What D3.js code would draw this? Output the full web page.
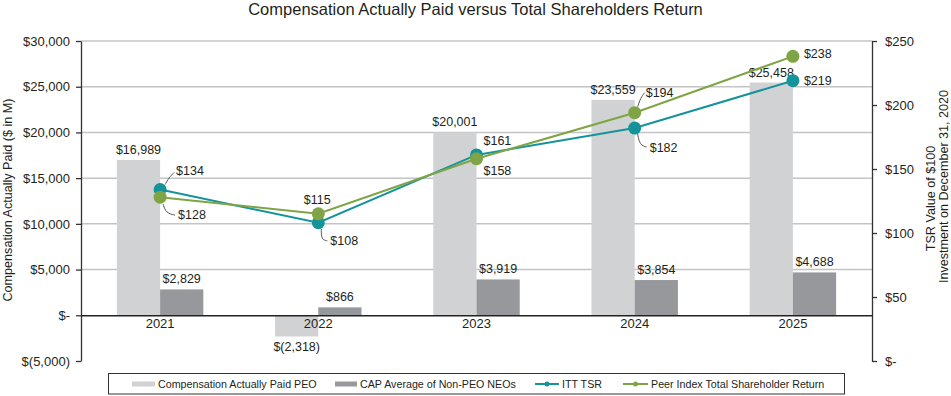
<!DOCTYPE html>
<html>
<head>
<meta charset="utf-8">
<script src="https://cdn.jsdelivr.net/npm/d3@7"></script>
<style>
  body { margin: 0; background: #fff; }
  svg { display: block; font-family: "Liberation Sans", Arial, sans-serif; }
</style>
</head>
<body>
<svg id="chart" width="951" height="396"></svg>
<script>
// data
const years = ["2021", "2022", "2023", "2024", "2025"];
const capPEO = [16989, -2318, 20001, 23559, 25458];
const capNEO = [2829, 866, 3919, 3854, 4688];
const ittTSR = [134, 108, 161, 182, 219];
const peerTSR = [128, 115, 158, 194, 238];
const leftTicks = [-5000, 0, 5000, 10000, 15000, 20000, 25000, 30000];
const rightTicks = [0, 50, 100, 150, 200, 250];

const colors = { peo: "#d1d2d4", neo: "#97989b", itt: "#14939a", peer: "#7fa445", text: "#231f20" };

// label placement for the TSR values (offset from the point, optional leader line)
const ittLabels = [
  { dx: 16, dy: -14, leader: [[5, -5], [9, -12], [14, -17]] },
  { dx: 12, dy: 22, leader: [[3, 6], [3, 17], [9, 18]] },
  { dx: 7, dy: -10 },
  { dx: 15, dy: 23.5, leader: [[3, 6], [5, 17], [12, 19]] },
  { dx: 11, dy: 4.5 }
];
const peerLabels = [
  { dx: 18, dy: 22, leader: [[3, 7], [6, 16], [15, 18]] },
  { dx: -1, dy: -10, anchor: "middle" },
  { dx: 7, dy: 16 },
  { dx: 11, dy: -16, leader: [[3, -6], [6, -15], [10, -20]] },
  { dx: 11, dy: 1.5 }
];

const svg = d3.select("#chart");
const plot = { left: 81, right: 872, top: 41, bottom: 361 };

const x = d3.scaleBand().domain(years).range([plot.left, plot.right]).padding(0);
const xSub = d3.scaleBand().domain(["peo", "neo"]).range([0, x.bandwidth()])
  .paddingInner(0).paddingOuter(0.83);
const y = d3.scaleLinear().domain([-5000, 30000]).range([plot.bottom, plot.top]);
const y2 = d3.scaleLinear().domain([0, 250]).range([plot.bottom, plot.top]);

const money = d3.format(",");
const fmtLeft = d => d === 0 ? "$-" : d < 0 ? "$(" + money(-d) + ")" : "$" + money(d);
const fmtRight = d => d === 0 ? "$-" : "$" + d;

// title
svg.append("text")
  .attr("x", 475.5).attr("y", 14.5)
  .attr("text-anchor", "middle")
  .attr("font-size", 16.5)
  .attr("fill", colors.text)
  .text("Compensation Actually Paid versus Total Shareholders Return");

// gridlines
svg.append("g")
  .selectAll("line")
  .data(leftTicks.filter(d => d > 0))
  .join("line")
  .attr("x1", plot.left).attr("x2", plot.right)
  .attr("y1", d => y(d)).attr("y2", d => y(d))
  .attr("stroke", "#c4c4c4").attr("stroke-width", 1.5);

// bars
const barData = years.map((yr, i) => ({ year: yr, peo: capPEO[i], neo: capNEO[i] }));
const groups = svg.append("g").selectAll("g")
  .data(barData)
  .join("g")
  .attr("transform", d => `translate(${x(d.year)},0)`);

["peo", "neo"].forEach(key => {
  groups.append("rect")
    .attr("x", xSub(key))
    .attr("width", xSub.bandwidth())
    .attr("y", d => y(Math.max(0, d[key])))
    .attr("height", d => Math.abs(y(d[key]) - y(0)))
    .attr("fill", colors[key]);

  groups.append("text")
    .attr("x", xSub(key) + xSub.bandwidth() / 2)
    .attr("y", d => d[key] >= 0 ? y(d[key]) - 6 : y(d[key]) + 15)
    .attr("text-anchor", "middle")
    .attr("font-size", 12.5)
    .attr("fill", colors.text)
    .text(d => fmtLeft(d[key]));
});

// left axis
const leftAxis = svg.append("g")
  .attr("transform", `translate(${plot.left},0)`)
  .call(d3.axisLeft(y).tickValues(leftTicks).tickFormat(fmtLeft).tickSize(5).tickPadding(6).tickSizeOuter(0));
leftAxis.selectAll("text").attr("font-size", 13).attr("fill", colors.text).attr("font-family", null);
leftAxis.selectAll("line, path").attr("stroke", "#333").attr("stroke-width", 1.3);

// right axis
const rightAxis = svg.append("g")
  .attr("transform", `translate(${plot.right},0)`)
  .call(d3.axisRight(y2).tickValues(rightTicks).tickFormat(fmtRight).tickSize(5).tickPadding(8).tickSizeOuter(0));
rightAxis.selectAll("text").attr("font-size", 13).attr("fill", colors.text).attr("font-family", null);
rightAxis.selectAll("line, path").attr("stroke", "#333").attr("stroke-width", 1.3);

// category axis on the zero line
const xAxis = svg.append("g")
  .attr("transform", `translate(0,${y(0)})`)
  .call(d3.axisBottom(x).tickSize(0).tickPadding(3).tickSizeOuter(0));
xAxis.select(".domain").attr("stroke", "#222").attr("stroke-width", 1.5);
xAxis.selectAll("text").attr("font-size", 13).attr("fill", colors.text).attr("font-family", null);

// axis titles
svg.append("text")
  .attr("transform", "translate(12,200) rotate(-90)")
  .attr("text-anchor", "middle")
  .attr("font-size", 12.6)
  .attr("fill", colors.text)
  .text("Compensation Actually Paid ($ in M)");

svg.append("text")
  .attr("transform", "translate(934.5,198.5) rotate(-90)")
  .attr("text-anchor", "middle")
  .attr("font-size", 12.6)
  .attr("fill", colors.text)
  .text("TSR Value of $100");

svg.append("text")
  .attr("transform", "translate(947.5,186.5) rotate(-90)")
  .attr("text-anchor", "middle")
  .attr("font-size", 12.6)
  .attr("fill", colors.text)
  .text("Investment on December 31, 2020");

// TSR lines
const line = d3.line().x(d => d.x).y(d => d.y);

function drawSeries(values, color, labels) {
  const pts = values.map((v, i) => ({ x: x(years[i]) + x.bandwidth() / 2, y: y2(v), v, lab: labels[i] }));
  const g = svg.append("g");
  g.append("path")
    .datum(pts)
    .attr("d", line)
    .attr("fill", "none")
    .attr("stroke", color)
    .attr("stroke-width", 2);
  g.selectAll("circle")
    .data(pts)
    .join("circle")
    .attr("cx", d => d.x).attr("cy", d => d.y)
    .attr("r", 6.5)
    .attr("fill", color);
  return pts;
}

function drawLabels(pts) {
  const g = svg.append("g");
  pts.forEach(p => {
    if (p.lab.leader) {
      g.append("path")
        .attr("d", d3.line().curve(d3.curveBasis)(p.lab.leader.map(([a, b]) => [p.x + a, p.y + b])))
        .attr("fill", "none")
        .attr("stroke", "#555")
        .attr("stroke-width", 1);
    }
    g.append("text")
      .attr("x", p.x + p.lab.dx)
      .attr("y", p.y + p.lab.dy)
      .attr("text-anchor", p.lab.anchor || "start")
      .attr("font-size", 12.5)
      .attr("fill", colors.text)
      .text("$" + p.v);
  });
}

const ittPts = drawSeries(ittTSR, colors.itt, ittLabels);
const peerPts = drawSeries(peerTSR, colors.peer, peerLabels);
drawLabels(ittPts);
drawLabels(peerPts);

// legend
const legend = svg.append("g");
legend.append("rect")
  .attr("x", 108.5).attr("y", 373.5)
  .attr("width", 736).attr("height", 20.5)
  .attr("fill", "#fff")
  .attr("stroke", "#333").attr("stroke-width", 1);

const legendItems = [
  { label: "Compensation Actually Paid PEO", type: "bar", color: colors.peo, x: 132, w: 23 },
  { label: "CAP Average of Non-PEO NEOs", type: "bar", color: colors.neo, x: 335, w: 22 },
  { label: "ITT TSR", type: "line", color: colors.itt, x: 535, w: 24 },
  { label: "Peer Index Total Shareholder Return", type: "line", color: colors.peer, x: 623, w: 25 }
];
const ly = 384;
legendItems.forEach(it => {
  if (it.type === "bar") {
    legend.append("rect").attr("x", it.x).attr("y", ly - 2.5).attr("width", it.w).attr("height", 5).attr("fill", it.color);
  } else {
    legend.append("line").attr("x1", it.x).attr("x2", it.x + it.w).attr("y1", ly).attr("y2", ly)
      .attr("stroke", it.color).attr("stroke-width", 2);
    legend.append("circle").attr("cx", it.x + it.w / 2).attr("cy", ly).attr("r", 2.5).attr("fill", it.color);
  }
  legend.append("text")
    .attr("x", it.x + it.w + 3).attr("y", ly + 4)
    .attr("font-size", 10.7)
    .attr("fill", colors.text)
    .text(it.label);
});
</script>
</body>
</html>
